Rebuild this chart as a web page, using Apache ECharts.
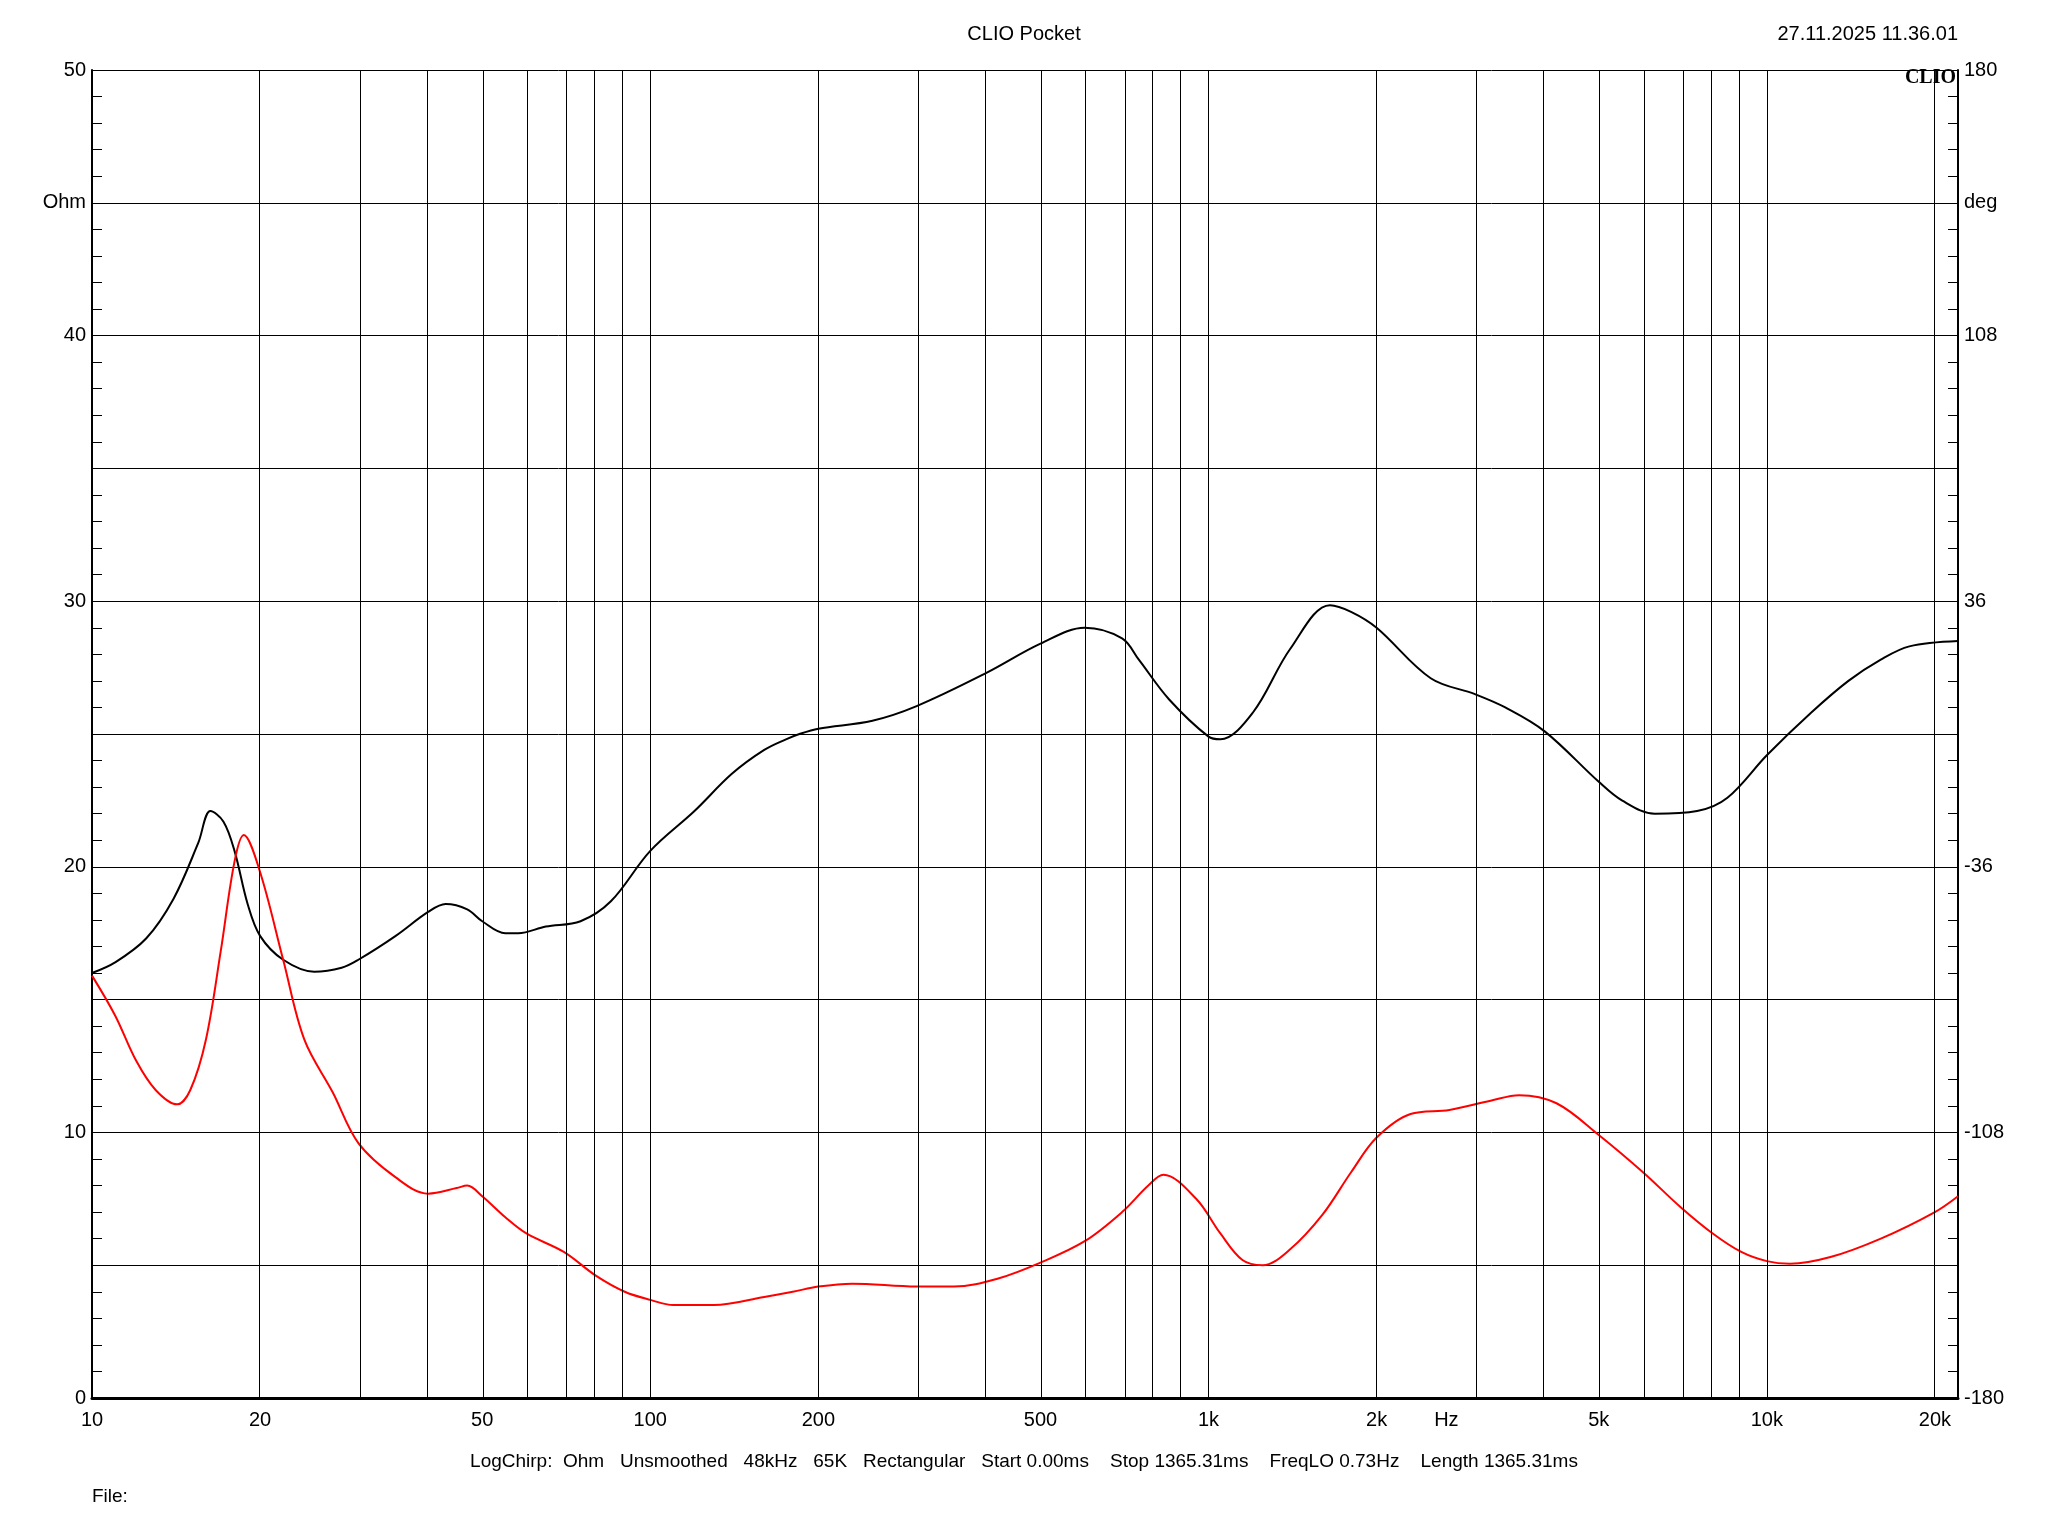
<!DOCTYPE html>
<html><head><meta charset="utf-8">
<script src="https://cdn.jsdelivr.net/npm/echarts@6/dist/echarts.min.js"></script>
<style>html,body{margin:0;padding:0;background:#fff}#c{width:2048px;height:1536px}</style>
</head><body><div id="c"></div>
<script>
// Impedance magnitude (Ohm), black
const magFreq = [10,11,12.5,14,15.5,16.3,17.2,18,19,20,22,25,28,30,35,40,43,47,50,55,58,65,75,85,100,120,140,160,175,185,200,250,300,400,500,600,700,750,850,1000,1050,1200,1400,1650,1800,2000,2500,3000,3400,4000,5000,5500,6300,7500,8500,10000,12000,14000,16000,18000,22000];
const magOhm  = [16.0,16.4,17.3,18.8,20.9,22.1,21.7,20.6,18.6,17.4,16.5,16.05,16.2,16.5,17.4,18.3,18.6,18.4,17.95,17.5,17.5,17.75,17.95,18.7,20.6,22.1,23.5,24.4,24.8,25.0,25.2,25.5,26.05,27.3,28.4,29.0,28.6,27.8,26.3,24.9,24.8,25.8,28.2,29.85,29.6,29.0,27.1,26.5,26.0,25.1,23.2,22.5,22.0,22.1,22.6,24.2,25.8,27.0,27.8,28.3,28.5];
// Impedance phase (deg), red
const phFreq = [10,11,12,13,14.2,15,16,17,18,18.7,20,22,24,27,30,35,40,45,47,50,55,60,70,80,90,100,110,130,160,180,200,230,300,350,420,500,600,700,780,830,950,1050,1150,1250,1400,1600,1800,2000,2300,2700,3200,3600,4200,5000,6000,7000,8000,9000,10000,11000,13000,16000,20000,22000];
const phDeg  = [-65.5,-76.3,-88.6,-96.5,-100.4,-96.5,-82.8,-59.0,-34.6,-27.4,-37.4,-61.2,-82.8,-97.2,-110.9,-120.2,-124.6,-123.1,-122.4,-125.3,-131.0,-135.4,-140.4,-146.9,-151.2,-153.4,-154.8,-154.8,-152.6,-151.2,-149.8,-149.0,-149.8,-149.8,-147.6,-143.3,-137.5,-129.6,-122.4,-119.5,-126.0,-135.4,-142.6,-144.0,-139.7,-130.3,-118.8,-109.4,-103.0,-101.9,-99.4,-97.9,-100.1,-108.7,-118.8,-128.2,-135.4,-140.4,-142.9,-143.6,-141.8,-136.8,-129.6,-125.3];
// x tick labels
const xLabelFreq = [10,20,50,100,200,500,1000,2000,2667,5000,10000,20000];
const xLabelText = ['10','20','50','100','200','500','1k','2k','Hz','5k','10k','20k'];
const gridFreq = [];
[10,100,1000,10000].forEach(d=>{for(let k=1;k<=9;k++){const f=d*k; if(f>10 && f<22000) gridFreq.push(f);}});
gridFreq.push(20000);

const L = Math.log10;
const font = 'Liberation Sans, Arial, sans-serif';
const chart = echarts.init(document.getElementById('c'));
const labelVals = xLabelFreq.map(L);
chart.setOption({
  animation:false,
  backgroundColor:'#fff',
  textStyle:{fontFamily:font},
  grid:{left:92,right:90,top:70,bottom:138},
  graphic:[
    {type:'text',left:'center',top:24,style:{text:'CLIO Pocket',font:'20px '+font,fill:'#000'}},
    {type:'text',right:90,top:24,style:{text:'27.11.2025 11.36.01',font:'20px '+font,fill:'#000'}},
    {type:'text',right:92,top:68,style:{text:'CLIO',font:'bold 20px "Liberation Serif", serif',fill:'#000'}},
    {type:'text',left:'center',top:1452,style:{text:'LogChirp:  Ohm   Unsmoothed   48kHz   65K   Rectangular   Start 0.00ms    Stop 1365.31ms    FreqLO 0.73Hz    Length 1365.31ms',font:'19px '+font,fill:'#000'}},
    {type:'text',left:92,top:1487,style:{text:'File:',font:'19px '+font,fill:'#000'}}
  ],
  xAxis:{type:'value',min:1,max:L(22000),
    axisLine:{show:true,onZero:false,lineStyle:{color:'#000',width:3}},
    axisTick:{show:false},splitLine:{show:false},
    axisLabel:{customValues:labelVals,color:'#000',fontSize:20,margin:12,
      formatter:v=>{const i=labelVals.findIndex(x=>Math.abs(x-v)<1e-6);return i>=0?xLabelText[i]:'';}}
  },
  yAxis:[
    {type:'value',min:0,max:50,interval:5,position:'left',
      axisLine:{show:true,lineStyle:{color:'#000',width:2}},
      axisTick:{show:true,inside:true,length:10,lineStyle:{color:'#000'}},
      minorTick:{show:true,splitNumber:5,length:10,lineStyle:{color:'#000'}},
      splitLine:{show:true,lineStyle:{color:'#000',width:1}},
      axisLabel:{color:'#000',fontSize:20,margin:6,formatter:v=>v%10===0?String(v):(v===45?'Ohm':'')}},
    {type:'value',min:-180,max:180,interval:36,position:'right',
      axisLine:{show:true,lineStyle:{color:'#000',width:2}},
      axisTick:{show:true,inside:true,length:10,lineStyle:{color:'#000'}},
      minorTick:{show:true,splitNumber:5,length:10,lineStyle:{color:'#000'}},
      splitLine:{show:false},
      axisLabel:{color:'#000',fontSize:20,margin:6,formatter:v=>{const r=Math.round(v);if(r===144)return 'deg';return ((r+180)%72===0)?String(r):'';}}}
  ],
  series:[
    {type:'line',yAxisIndex:0,symbol:'none',smooth:0.35,silent:true,z:3,
      lineStyle:{color:'#000',width:2},
      data:magFreq.map((f,i)=>[L(f),magOhm[i]]),
      markLine:{silent:true,symbol:'none',label:{show:false},lineStyle:{color:'#000',width:1,type:'solid'},
        data:gridFreq.map(f=>({xAxis:L(f)}))}},
    {type:'line',yAxisIndex:1,symbol:'none',smooth:0.35,silent:true,z:4,
      lineStyle:{color:'#ff0000',width:2},
      data:phFreq.map((f,i)=>[L(f),phDeg[i]])}
  ]
});
</script></body></html>
